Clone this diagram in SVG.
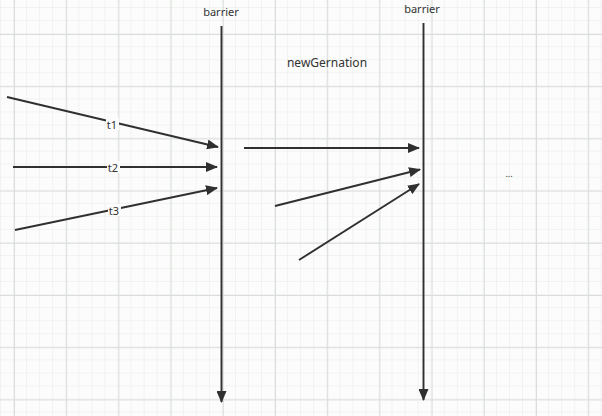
<svg xmlns="http://www.w3.org/2000/svg" width="602" height="416" viewBox="0 0 602 416">
<style>
  .ln{stroke:#303030;stroke-width:1.9;fill:none;marker-end:url(#ah)}
  .t{font-family:"Noto Sans","Open Sans","Liberation Sans",sans-serif;fill:#333;text-anchor:middle;dominant-baseline:central}
  .lbl{font-size:11px}
  .bg{fill:#fbfcfb}
</style>
<defs>
  <pattern id="minor" width="13.05" height="13.05" patternUnits="userSpaceOnUse" patternTransform="translate(1,8)">
    <path d="M13.05 0V13.05M0 13.05H13.05" stroke="#e7eae8" stroke-width="1" fill="none"/>
  </pattern>
  <pattern id="major" width="52.2" height="52.2" patternUnits="userSpaceOnUse" patternTransform="translate(14,34)">
    <path d="M0.5 0V52.2M0 0.5H52.2" stroke="#dadddb" stroke-width="1" fill="none"/>
  </pattern>
  <marker id="ah" markerWidth="12" markerHeight="10" refX="11" refY="5" orient="auto" markerUnits="userSpaceOnUse">
    <path d="M0,0L12,5L0,10Z" fill="#303030"/>
  </marker>
</defs>
<rect width="602" height="416" class="bg"/>
<rect width="602" height="416" fill="url(#minor)"/>
<rect width="602" height="416" fill="url(#major)"/>

<g id="connectors">
  <line class="ln" x1="221.5" y1="26" x2="221.5" y2="402"/>
  <line class="ln" x1="423.5" y1="23" x2="423.5" y2="400"/>
  <line class="ln" x1="7" y1="97" x2="218" y2="147"/>
  <line class="ln" x1="13" y1="167" x2="217" y2="167"/>
  <line class="ln" x1="15" y1="230" x2="217" y2="188"/>
  <line class="ln" x1="244" y1="148" x2="419" y2="148"/>
  <line class="ln" x1="275" y1="206" x2="420" y2="169.5"/>
  <line class="ln" x1="299" y1="260" x2="419" y2="184"/>
</g>

<g id="barrier1"><text class="t lbl" x="221" y="11">barrier</text></g>
<g id="barrier2"><text class="t lbl" x="422" y="8">barrier</text></g>
<g id="newGernation"><text class="t" font-size="12" x="327" y="62">newGernation</text></g>
<g id="t1"><rect class="bg" x="106" y="118" width="13" height="12"/><text class="t lbl" x="112" y="124">t1</text></g>
<g id="t2"><rect class="bg" x="107" y="161" width="13" height="12"/><text class="t lbl" x="113" y="167">t2</text></g>
<g id="t3"><rect class="bg" x="108" y="204" width="13" height="12"/><text class="t lbl" x="114" y="210">t3</text></g>
<g id="ellipsis"><text class="t" font-size="9" x="509" y="173">...</text></g>
</svg>
